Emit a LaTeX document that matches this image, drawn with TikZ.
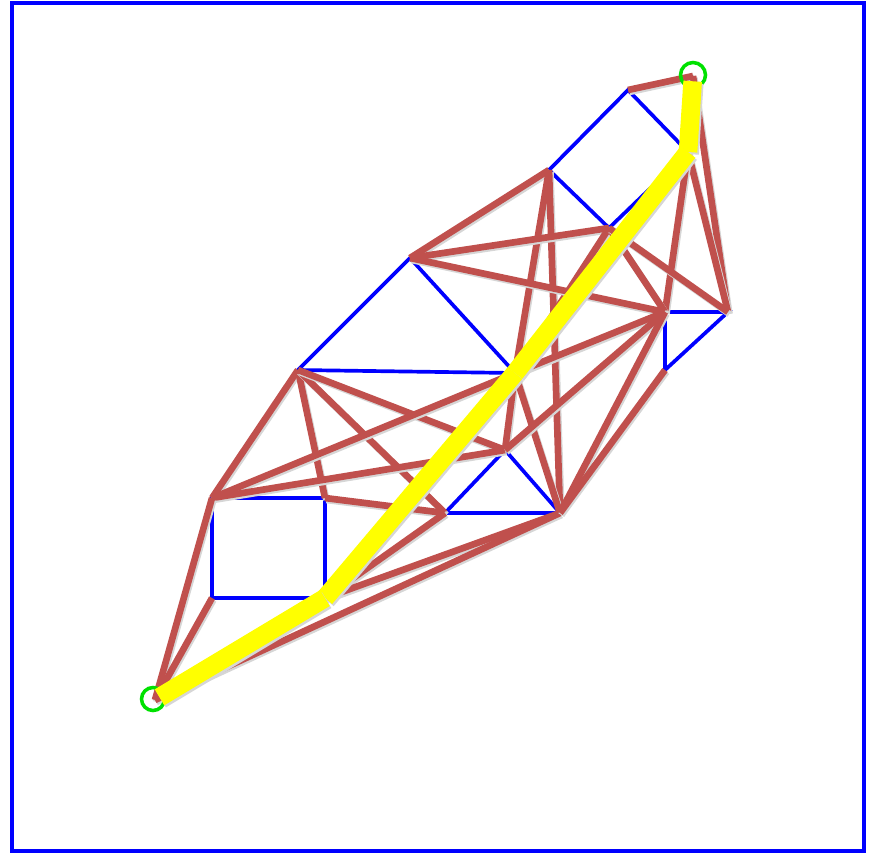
\documentclass[tikz,border=0pt]{standalone}
\usetikzlibrary{calc}
\usepackage{xcolor}
\definecolor{edgered}{RGB}{192, 80, 77}
\definecolor{obstacleblue}{RGB}{0, 0, 255}
\definecolor{routeyellow}{RGB}{255, 255, 0}
\definecolor{markgreen}{RGB}{0, 225, 0}

\begin{document}
\begin{tikzpicture}[
    x=0.02cm, y=-0.02cm,
    frame/.style={draw=obstacleblue, line width=2pt},
    obstacle/.style={draw=obstacleblue, line width=2.1pt},
    visedge/.style={draw=edgered, line width=3.8pt, preaction={draw=black!16, line width=3.8pt, transform canvas={shift={(0.8pt,-1.1pt)}}}},
    route/.style={draw=routeyellow, line width=10.6pt, preaction={draw=black!16, line width=10.6pt, transform canvas={shift={(0.9pt,-1.2pt)}}}},
    endpoint/.style={circle, draw=markgreen, line width=2pt, minimum size=0.46cm, inner sep=0pt}
]
\useasboundingbox (0,0) rectangle (874,853);

% Frame
\draw[frame] (12,3) rectangle (864,851);

% Vertices
\coordinate (start) at (155,700);
\coordinate (goal) at (693,76);
\coordinate (dtop) at (628,90);
\coordinate (dleft) at (549,170);
\coordinate (dbot) at (609,228);
\coordinate (dright) at (688,152);
\coordinate (ttop) at (410,258);
\coordinate (tleft) at (298,370);
\coordinate (tright) at (515,373);
\coordinate (sqtl) at (212,498);
\coordinate (sqtr) at (325,498);
\coordinate (sqbr) at (325,598);
\coordinate (sqbl) at (212,598);
\coordinate (utop) at (505,450);
\coordinate (uleft) at (445,513);
\coordinate (uright) at (560,513);
\coordinate (rtl) at (665,312);
\coordinate (rtr) at (728,312);
\coordinate (rbot) at (665,370);

% Obstacles
\draw[obstacle] (dtop) -- (dleft) -- (dbot) -- (dright) -- cycle;
\draw[obstacle] (ttop) -- (tleft) -- (tright) -- cycle;
\draw[obstacle] (sqtl) -- (sqtr) -- (sqbr) -- (sqbl) -- cycle;
\draw[obstacle] (utop) -- (uleft) -- (uright) -- cycle;
\draw[obstacle] (rtl) -- (rtr) -- (rbot) -- cycle;

% Visibility edges, top
\draw[visedge] (goal) -- (dtop);
\draw[visedge] (goal) -- (rtr);
\draw[visedge] (dright) -- (rtr);
\draw[visedge] (dright) -- (rtl);
\draw[visedge] (dleft) -- (ttop);
\draw[visedge] (dleft) -- (tright);
\draw[visedge] (dleft) -- (uright);
\draw[visedge] (dbot) -- (ttop);
\draw[visedge] (dbot) -- (tright);
\draw[visedge] (dbot) -- (rtl);
\draw[visedge] (dbot) -- (rtr);

% Visibility edges, middle
\draw[visedge] (ttop) -- (rtl);
\draw[visedge] (tleft) -- (sqtl);
\draw[visedge] (tleft) -- (sqtr);
\draw[visedge] (tleft) -- (uleft);
\draw[visedge] (tleft) -- (utop);
\draw[visedge] (tright) -- (utop);
\draw[visedge] (tright) -- (uright);
\draw[visedge] (tright) -- (rtl);
\draw[visedge] (tright) -- (sqtl);

% Visibility edges, bottom
\draw[visedge] (sqtl) -- (utop);
\draw[visedge] (sqtl) -- (start);
\draw[visedge] (sqbl) -- (start);
\draw[visedge] (sqtr) -- (uleft);
\draw[visedge] (sqbr) -- (uleft);
\draw[visedge] (sqbr) -- (uright);
\draw[visedge] (start) -- (uright);
\draw[visedge] (utop) -- (rtl);
\draw[visedge] (uright) -- (rtl);
\draw[visedge] (uright) -- (rbot);

% Start and goal
\node[endpoint] (startmark) at (153,699) {};
\node[endpoint, minimum size=0.5cm] (goalmark) at (693,75) {};

% Shortest route
\draw[route, shorten <=3pt] (goal) -- (dright);
\draw[route] (dright) -- (tright);
\draw[route] (tright) -- (sqbr);
\draw[route, shorten >=3pt] (sqbr) -- (start);

\end{tikzpicture}
\end{document}
